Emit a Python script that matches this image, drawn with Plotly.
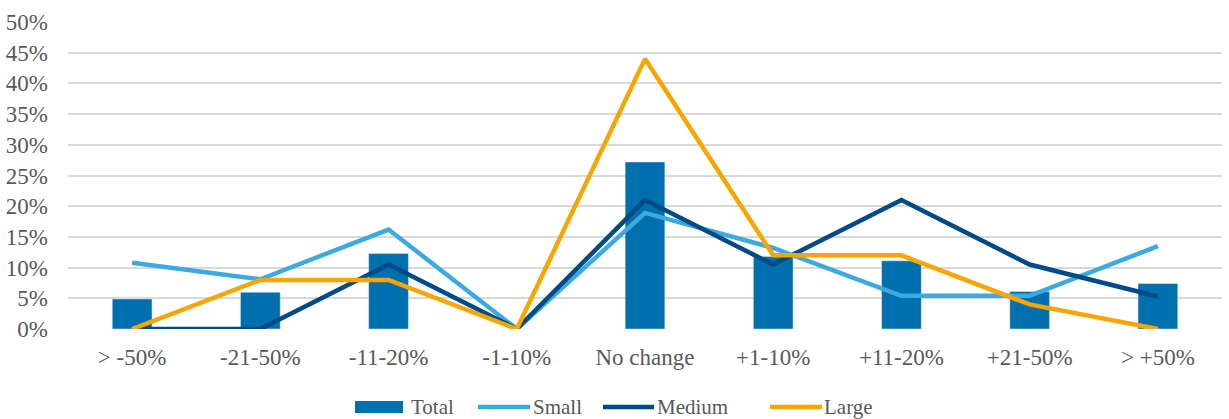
import plotly.graph_objects as go

categories = ["> -50%", "-21-50%", "-11-20%", "-1-10%", "No change",
              "+1-10%", "+11-20%", "+21-50%", "> +50%"]
total = [4.9, 6.0, 12.3, 0.0, 27.2, 11.8, 11.1, 6.1, 7.4]
small = [10.8, 8.1, 16.2, 0.0, 18.9, 13.2, 5.4, 5.4, 13.5]
medium = [0.0, 0.0, 10.5, 0.0, 21.0, 10.5, 21.0, 10.5, 5.3]
large = [0.0, 8.0, 8.0, 0.0, 44.0, 12.0, 12.0, 4.0, 0.0]
y_ticks = [0, 5, 10, 15, 20, 25, 30, 35, 40, 45, 50]

C_TOTAL = "#006FAD"
C_SMALL = "#3AAAE0"
C_MEDIUM = "#004A86"
C_LARGE = "#F7A600"
TEXT = "#595959"
FONT = "Liberation Serif, serif"

W, H = 1229, 419
L, R, T, B = 68, 7, 22, 90

fig = go.Figure()
fig.add_trace(go.Bar(x=categories, y=total, name="Total", marker_color=C_TOTAL,
                     width=0.31, showlegend=False))
for name, vals, col in [("Small", small, C_SMALL), ("Medium", medium, C_MEDIUM),
                        ("Large", large, C_LARGE)]:
    fig.add_trace(go.Scatter(x=categories, y=vals, name=name, mode="lines",
                             line=dict(color=col, width=4.5), showlegend=False))

# legend drawn below the axis
pw, ph = W - L - R, H - T - B
def px_x(v):
    return (v - L) / pw
def px_y(v):
    return (H - B - v) / ph

legend_y = 407
items = [
    ("Total", "bar", C_TOTAL, 355, 403, 409),
    ("Small", "line", C_SMALL, 478, 530, 531),
    ("Medium", "line", C_MEDIUM, 603, 654, 655),
    ("Large", "line", C_LARGE, 770, 822, 822),
]
shapes = []
annotations = []
for label, kind, col, x0, x1, tx in items:
    if kind == "bar":
        shapes.append(dict(type="rect", xref="paper", yref="paper",
                           x0=px_x(x0), x1=px_x(x1),
                           y0=px_y(legend_y + 6), y1=px_y(legend_y - 6),
                           fillcolor=col, line=dict(width=0)))
    else:
        shapes.append(dict(type="line", xref="paper", yref="paper",
                           x0=px_x(x0), x1=px_x(x1),
                           y0=px_y(legend_y), y1=px_y(legend_y),
                           line=dict(color=col, width=4.5)))
    annotations.append(dict(text=label, xref="paper", yref="paper",
                            x=px_x(tx), y=px_y(legend_y), xanchor="left",
                            yanchor="middle", showarrow=False,
                            font=dict(family=FONT, size=21, color=TEXT)))

fig.update_layout(
    width=W, height=H,
    margin=dict(l=L, r=R, t=T, b=B, pad=0),
    paper_bgcolor="white", plot_bgcolor="white",
    shapes=shapes, annotations=annotations,
    font=dict(family=FONT, size=23, color=TEXT),
    xaxis=dict(showgrid=False, zeroline=False, showline=False, ticks="",
               ticklabelstandoff=12, tickfont=dict(family=FONT, size=23, color=TEXT)),
    yaxis=dict(range=[0, 50], tickvals=y_ticks,
               ticktext=[f"{v}%" for v in y_ticks],
               showgrid=True, gridcolor="#D9D9D9", gridwidth=1.5,
               zeroline=False, showline=False, ticks="",
               ticklabelstandoff=19,
               tickfont=dict(family=FONT, size=23, color=TEXT)),
)

fig.write_html("out.html")
